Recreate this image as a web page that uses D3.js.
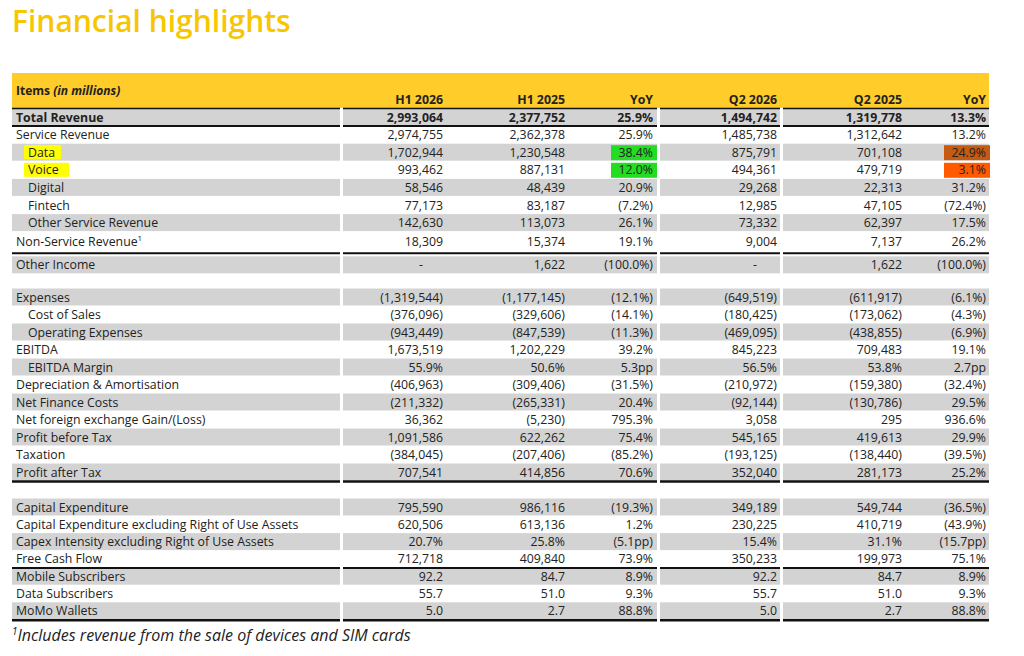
<!DOCTYPE html>
<html lang="en">
<head>
<meta charset="UTF-8">
<title>Financial highlights</title>
<script src="https://d3js.org/d3.v7.min.js"></script>
<style>
  body { margin: 0; background: #fff; font-family: "Open Sans", sans-serif; }
  svg text { font-family: "Open Sans", sans-serif; }
</style>
</head>
<body>
<svg id="chart" width="1024" height="656"></svg>
<script>
// Column headers
const columns = ["H1 2026", "H1 2025", "YoY", "Q2 2026", "Q2 2025", "YoY"];

// Section 1: revenue
const revLabels = ["Total Revenue", "Service Revenue", "Data", "Voice", "Digital", "Fintech", "Other Service Revenue", "Non-Service Revenue", "Other Income"];
const revValues = [
  ["2,993,064", "2,377,752", "25.9%", "1,494,742", "1,319,778", "13.3%"],
  ["2,974,755", "2,362,378", "25.9%", "1,485,738", "1,312,642", "13.2%"],
  ["1,702,944", "1,230,548", "38.4%", "875,791", "701,108", "24.9%"],
  ["993,462", "887,131", "12.0%", "494,361", "479,719", "3.1%"],
  ["58,546", "48,439", "20.9%", "29,268", "22,313", "31.2%"],
  ["77,173", "83,187", "(7.2%)", "12,985", "47,105", "(72.4%)"],
  ["142,630", "113,073", "26.1%", "73,332", "62,397", "17.5%"],
  ["18,309", "15,374", "19.1%", "9,004", "7,137", "26.2%"],
  ["-", "1,622", "(100.0%)", "-", "1,622", "(100.0%)"]
];

// Section 2: profit
const profitLabels = ["Expenses", "Cost of Sales", "Operating Expenses", "EBITDA", "EBITDA Margin", "Depreciation & Amortisation", "Net Finance Costs", "Net foreign exchange Gain/(Loss)", "Profit before Tax", "Taxation", "Profit after Tax"];
const profitValues = [
  ["(1,319,544)", "(1,177,145)", "(12.1%)", "(649,519)", "(611,917)", "(6.1%)"],
  ["(376,096)", "(329,606)", "(14.1%)", "(180,425)", "(173,062)", "(4.3%)"],
  ["(943,449)", "(847,539)", "(11.3%)", "(469,095)", "(438,855)", "(6.9%)"],
  ["1,673,519", "1,202,229", "39.2%", "845,223", "709,483", "19.1%"],
  ["55.9%", "50.6%", "5.3pp", "56.5%", "53.8%", "2.7pp"],
  ["(406,963)", "(309,406)", "(31.5%)", "(210,972)", "(159,380)", "(32.4%)"],
  ["(211,332)", "(265,331)", "20.4%", "(92,144)", "(130,786)", "29.5%"],
  ["36,362", "(5,230)", "795.3%", "3,058", "295", "936.6%"],
  ["1,091,586", "622,262", "75.4%", "545,165", "419,613", "29.9%"],
  ["(384,045)", "(207,406)", "(85.2%)", "(193,125)", "(138,440)", "(39.5%)"],
  ["707,541", "414,856", "70.6%", "352,040", "281,173", "25.2%"]
];

// Section 3: capex and subscribers
const capexLabels = ["Capital Expenditure", "Capital Expenditure excluding Right of Use Assets", "Capex Intensity excluding Right of Use Assets", "Free Cash Flow", "Mobile Subscribers", "Data Subscribers", "MoMo Wallets"];
const capexValues = [
  ["795,590", "986,116", "(19.3%)", "349,189", "549,744", "(36.5%)"],
  ["620,506", "613,136", "1.2%", "230,225", "410,719", "(43.9%)"],
  ["20.7%", "25.8%", "(5.1pp)", "15.4%", "31.1%", "(15.7pp)"],
  ["712,718", "409,840", "73.9%", "350,233", "199,973", "75.1%"],
  ["92.2", "84.7", "8.9%", "92.2", "84.7", "8.9%"],
  ["55.7", "51.0", "9.3%", "55.7", "51.0", "9.3%"],
  ["5.0", "2.7", "88.8%", "5.0", "2.7", "88.8%"]
];

const svg = d3.select("#chart");
const yellow = "#ffcc29", grey = "#d3d3d3";
const fs = 12.3;

// title
svg.append("text").attr("x", 12).attr("y", 32)
  .attr("font-size", 30).attr("font-weight", 600).attr("fill", "#f7c600")
  .text("Financial highlights");

// column geometry
const colRight = [443, 565, 653, 777, 902, 986];
const segments = [[12, 340], [343, 657], [660, 780], [783, 989]];

// header
svg.append("rect").attr("x", 12).attr("y", 73).attr("width", 977).attr("height", 35).attr("fill", yellow);
svg.append("text").attr("x", 16).attr("y", 95).attr("font-size", 12).attr("font-weight", 700).attr("fill", "#222")
  .html('Items <tspan font-style="italic">(in millions)</tspan>');
svg.selectAll(".colh").data(columns).join("text")
  .attr("x", (d, i) => colRight[i]).attr("y", 104).attr("text-anchor", "end")
  .attr("font-size", fs).attr("font-weight", 700).attr("fill", "#222").text(d => d);

const indented = new Set(["Data", "Voice", "Digital", "Fintech", "Other Service Revenue", "Cost of Sales", "Operating Expenses", "EBITDA Margin"]);
const labelHi = { "Data": "#ffff00", "Voice": "#ffff00" };
const cellHi = { "Data|2": "#22dd22", "Voice|2": "#22dd22", "Data|5": "#c55a11", "Voice|5": "#ff5a00" };

// slots: row position in units of row pitch (Other Income sits a bit lower)
function section(labels, values, slots, y0, pitch, boldFirst) {
  const y = d3.scaleLinear().domain([0, 1]).range([y0, y0 + pitch]);
  const rh = 17;
  labels.forEach((lab, i) => {
    const cy = y(slots[i]);
    if (i % 2 === 0) {
      segments.forEach(s => svg.append("rect").attr("x", s[0]).attr("y", cy - rh / 2).attr("width", s[1] - s[0]).attr("height", rh).attr("fill", grey));
    }
    const lx = indented.has(lab) ? 28 : 16;
    const bold = boldFirst && i === 0;
    if (labelHi[lab]) {
      svg.append("rect").attr("x", lx - 4).attr("y", cy - 7).attr("width", lab.length * 7.8 + 6).attr("height", 14).attr("fill", labelHi[lab]);
    }
    const t = svg.append("text").attr("x", lx).attr("y", cy + 4.5).attr("font-size", fs)
      .attr("font-weight", bold ? 700 : 400).attr("fill", "#222").text(lab);
    if (lab === "Non-Service Revenue") t.append("tspan").attr("dy", -5).attr("font-size", 8).text("1");
    values[i].forEach((v, j) => {
      const hc = cellHi[lab + "|" + j];
      if (hc) svg.append("rect").attr("x", colRight[j] - 42).attr("y", cy - 7).attr("width", 46).attr("height", 15).attr("fill", hc);
      svg.append("text").attr("x", colRight[j]).attr("y", cy + 4.5).attr("text-anchor", "end")
        .attr("font-size", fs).attr("font-weight", bold ? 700 : 400).attr("fill", "#222")
        .attr("dx", v === "-" ? -20 : 0).text(v);
    });
  });
  return y;
}

function rule(yy, w) {
  segments.forEach(s => svg.append("line").attr("x1", s[0]).attr("x2", s[1]).attr("y1", yy).attr("y2", yy)
    .attr("stroke", "#111").attr("stroke-width", w));
}

const y1 = section(revLabels, revValues, [0, 1, 2, 3, 4, 5, 6, 7.1, 8.4], 117, 17.6, true);
const y2 = section(profitLabels, profitValues, d3.range(11), 297, 17.5, false);
const y3 = section(capexLabels, capexValues, d3.range(7), 507, 17.3, false);

rule(108.5, 1.5);
rule(y1(0) + 9, 2);
rule(y1(8.4) - 11.5, 2);
rule(y2(10) + 9.5, 2.5);
rule(y3(3) + 9, 2);
rule(y3(6) + 9.5, 2.5);

// footnote
svg.append("text").attr("x", 12).attr("y", 641).attr("font-size", 16).attr("font-style", "italic").attr("fill", "#222")
  .html('<tspan font-size="10" dy="-6">1</tspan><tspan dy="6">Includes revenue from the sale of devices and SIM cards</tspan>');
</script>
</body>
</html>
